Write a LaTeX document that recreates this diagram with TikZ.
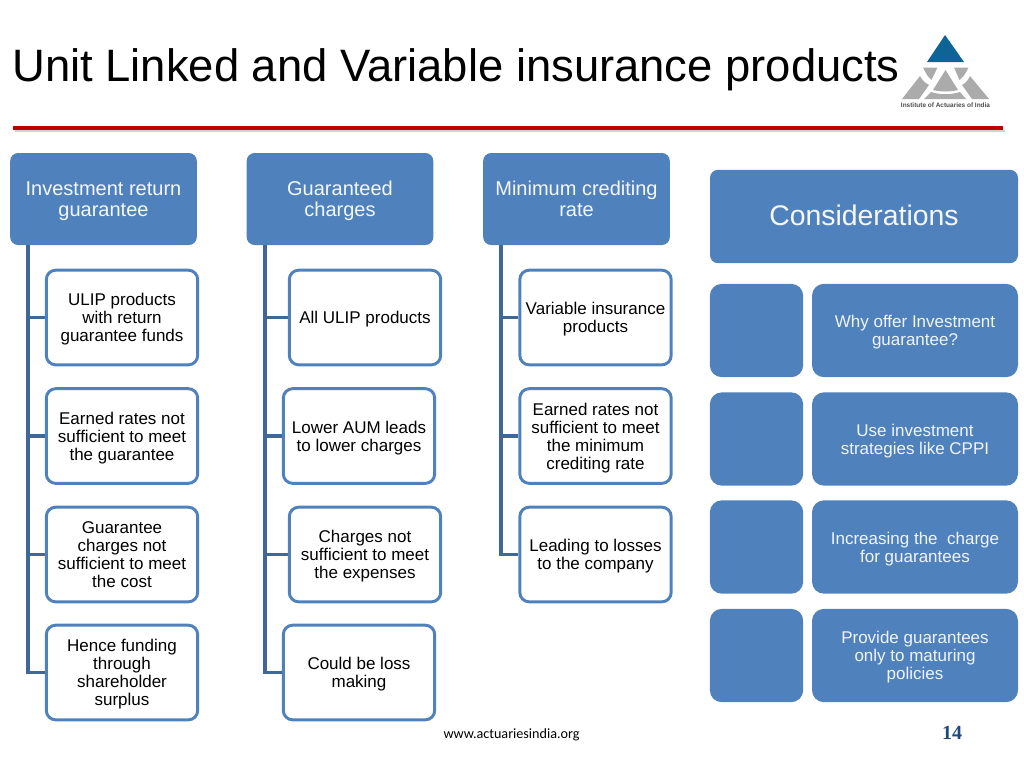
\documentclass[tikz,border=0pt]{standalone}
\usepackage{fontspec}
\setmainfont{Liberation Sans}
\newfontfamily\footfont{Carlito}
\newfontfamily\numfont{Liberation Serif}
\definecolor{boxblue}{HTML}{4F81BD}
\definecolor{trunkblue}{HTML}{3F6797}
\definecolor{logoblue}{HTML}{0F6496}
\definecolor{logogray}{HTML}{ABABAB}
\definecolor{rulered}{HTML}{C00000}
\definecolor{numblue}{HTML}{1F497D}
\begin{document}
\begin{tikzpicture}[x=.75pt, y=-.75pt,
head/.style={fill=boxblue, rounded corners=6, inner sep=0pt, align=center, text=white!94!boxblue, text depth=0pt, font=\fontsize{15}{15.8}\selectfont, minimum width=140pt, minimum height=69pt},
leaf/.style={draw=boxblue, fill=white, line width=2.2pt, rounded corners=7, inner sep=0pt, align=center, text depth=0pt, font=\fontsize{12.75}{13.5}\selectfont, minimum width=113.5pt, minimum height=71pt},
tile/.style={fill=boxblue, rounded corners=9, inner sep=0pt, minimum width=70pt, minimum height=70pt},
wide/.style={tile, align=center, text=white!92!boxblue, text depth=0pt, font=\fontsize{12.75}{13.5}\selectfont, minimum width=154.5pt},
branch/.style={draw=trunkblue, line width=2.4pt}]
\useasboundingbox (0,0) rectangle (1024,768);
\node (title) [anchor=west, inner sep=0pt, font=\fontsize{34.05}{36}\selectfont] at (12,70) {Unit Linked and Variable insurance products};
\node (logotext) [inner sep=0pt, text=black!70, font=\fontsize{4.85}{5}\selectfont\bfseries] at (945.5,105.5) {Institute of Actuaries of India};
\coordinate (r1) at (13,128);
\coordinate (r2) at (1003,128);
\coordinate (s1) at (15,131);
\coordinate (s2) at (1005,131);
\draw [black!18, line width=2pt] (s1) -- (s2);
\draw [rulered, line width=3pt] (r1) -- (r2);
% logo
\fill [logoblue] (945,35) -- (964,62) -- (927,62) -- cycle;
\fill [logogray] (923,67.5) -- (937.5,67.5) -- (931.5,80) .. controls (928,77) .. (923,67.5) -- cycle;
\fill [logogray] (954,67.5) -- (968.5,67.5) .. controls (964,76) .. (959.5,80) -- cycle;
\fill [logogray] (945.5,70) -- (958,90) .. controls (950,92) and (941,92) .. (933,90) -- cycle;
\fill [logogray] (920,76) .. controls (922,80) and (925,83) .. (929,85) -- (919,99) -- (902,99) -- cycle;
\fill [logogray] (970,76) -- (989,99) -- (972,99) -- (962,85) .. controls (966,83) and (968,80) .. (970,76) -- cycle;
\fill [logogray] (931,92) .. controls (941,95) and (950,95) .. (960,92) -- (966,99) -- (924,99) -- cycle;
% column one
\node [head] (i0) at (103.5,199) {Investment return\\guarantee};
\node [leaf] (i1) at (122,317.5) {ULIP products\\with return\\guarantee funds};
\node [leaf] (i2) at (122,436) {Earned rates not\\sufficient to meet\\the guarantee};
\node [leaf] (i3) at (122,554.5) {Guarantee\\charges not\\sufficient to meet\\the cost};
\node [leaf] (i4) at (122,672.5) {Hence funding\\through\\shareholder\\surplus};
\coordinate (it) at (28,245);
\draw [branch] (it) |- (i1);
\draw [branch] (it) |- (i2);
\draw [branch] (it) |- (i3);
\draw [branch] (it) |- (i4);
% column two
\node [head] (g0) at (340,199) {Guaranteed\\charges};
\node [leaf] (g1) at (365,317.5) {All ULIP products};
\node [leaf] (g2) at (359,436) {Lower AUM leads\\to lower charges};
\node [leaf] (g3) at (365,554.5) {Charges not\\sufficient to meet\\the expenses};
\node [leaf] (g4) at (359,672.5) {Could be loss\\making};
\coordinate (gt) at (265,245);
\draw [branch] (gt) |- (g1);
\draw [branch] (gt) |- (g2);
\draw [branch] (gt) |- (g3);
\draw [branch] (gt) |- (g4);
% column three
\node [head] (m0) at (576.5,199) {Minimum crediting\\rate};
\node [leaf] (m1) at (595.5,317.5) {Variable insurance\\products};
\node [leaf] (m2) at (595.5,436) {Earned rates not\\sufficient to meet\\the minimum\\crediting rate};
\node [leaf] (m3) at (595.5,554.5) {Leading to losses\\to the company};
\coordinate (mt) at (501,245);
\draw [branch] (mt) |- (m1);
\draw [branch] (mt) |- (m2);
\draw [branch] (mt) |- (m3);
% considerations
\node [head, minimum width=231pt, minimum height=70pt, text depth=1.5pt, font=\fontsize{21.3}{23}\selectfont] (c0) at (864,216.5) {Considerations};
\node [tile] (c1) at (756.5,330.5) {};
\node [tile] (c2) at (756.5,439) {};
\node [tile] (c3) at (756.5,547) {};
\node [tile] (c4) at (756.5,655.5) {};
\node [wide] (w1) at (915,330.5) {Why offer Investment\\guarantee?};
\node [wide] (w2) at (915,439) {Use investment\\strategies like CPPI};
\node [wide] (w3) at (915,547) {Increasing the\ \ charge\\for guarantees};
\node [wide] (w4) at (915,655.5) {Provide guarantees\\only to maturing\\policies};
% footer
\node (web) [inner sep=0pt, font=\fontsize{10.6}{12}\footfont] at (511.5,734.5) {www.actuariesindia.org};
\node (num) [inner sep=0pt, text=numblue, font=\fontsize{15}{16}\numfont\bfseries] at (952,733) {14};
\end{tikzpicture}
\end{document}
